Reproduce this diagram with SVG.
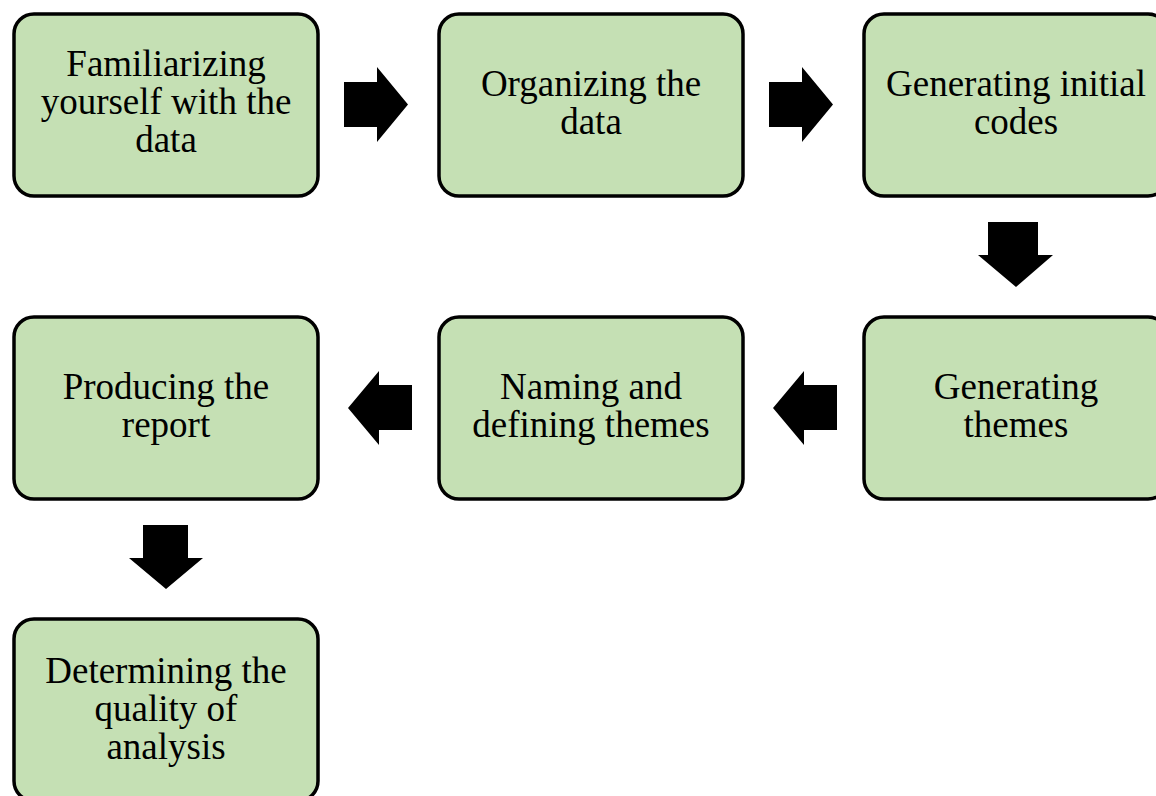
<svg xmlns="http://www.w3.org/2000/svg" width="1156" height="796" viewBox="0 0 1156 796">
  <style>
    .box { fill: #C5E0B4; stroke: #000; stroke-width: 3.5; }
    .lbl { font-family: "Liberation Serif", "Times New Roman", serif; font-size: 37px; fill: #000; text-anchor: middle; }
    .arrow { fill: #000; stroke: none; }
  </style>
  <rect width="1156" height="796" fill="#fff"/>

  <!-- connectors: block arrows between steps -->
  <g id="connectors">
    <polygon class="arrow" points="344,82 377,82 377,67 408,104.5 377,142 377,127 344,127"/>
    <polygon class="arrow" points="769,82 802,82 802,67 833,104.5 802,142 802,127 769,127"/>
    <polygon class="arrow" points="988,222 1038,222 1038,255 1053,255 1016,287 978,255 988,255"/>
    <polygon class="arrow" points="837,385 804,385 804,371 773,408 804,445 804,430 837,430"/>
    <polygon class="arrow" points="412,385 379,385 379,371 348,408 379,445 379,430 412,430"/>
    <polygon class="arrow" points="143,525 188,525 188,558 203,558 166,589 129,558 143,558"/>
  </g>

  <g id="node-familiarizing">
    <rect class="box" x="14" y="14" width="304" height="182" rx="20"/>
    <text class="lbl" x="166" y="76">Familiarizing</text>
    <text class="lbl" x="166" y="114">yourself with the</text>
    <text class="lbl" x="166" y="152">data</text>
  </g>

  <g id="node-organizing">
    <rect class="box" x="439" y="14" width="304" height="182" rx="20"/>
    <text class="lbl" x="591" y="96">Organizing the</text>
    <text class="lbl" x="591" y="134">data</text>
  </g>

  <g id="node-initial-codes">
    <rect class="box" x="864" y="14" width="304" height="182" rx="20"/>
    <text class="lbl" x="1016" y="96">Generating initial</text>
    <text class="lbl" x="1016" y="134">codes</text>
  </g>

  <g id="node-themes">
    <rect class="box" x="864" y="317" width="304" height="182" rx="20"/>
    <text class="lbl" x="1016" y="399">Generating</text>
    <text class="lbl" x="1016" y="437">themes</text>
  </g>

  <g id="node-naming">
    <rect class="box" x="439" y="317" width="304" height="182" rx="20"/>
    <text class="lbl" x="591" y="399">Naming and</text>
    <text class="lbl" x="591" y="437">defining themes</text>
  </g>

  <g id="node-report">
    <rect class="box" x="14" y="317" width="304" height="182" rx="20"/>
    <text class="lbl" x="166" y="399">Producing the</text>
    <text class="lbl" x="166" y="437">report</text>
  </g>

  <g id="node-quality">
    <rect class="box" x="14" y="619" width="304" height="182" rx="20"/>
    <text class="lbl" x="166" y="683">Determining the</text>
    <text class="lbl" x="166" y="721">quality of</text>
    <text class="lbl" x="166" y="759">analysis</text>
  </g>
</svg>
